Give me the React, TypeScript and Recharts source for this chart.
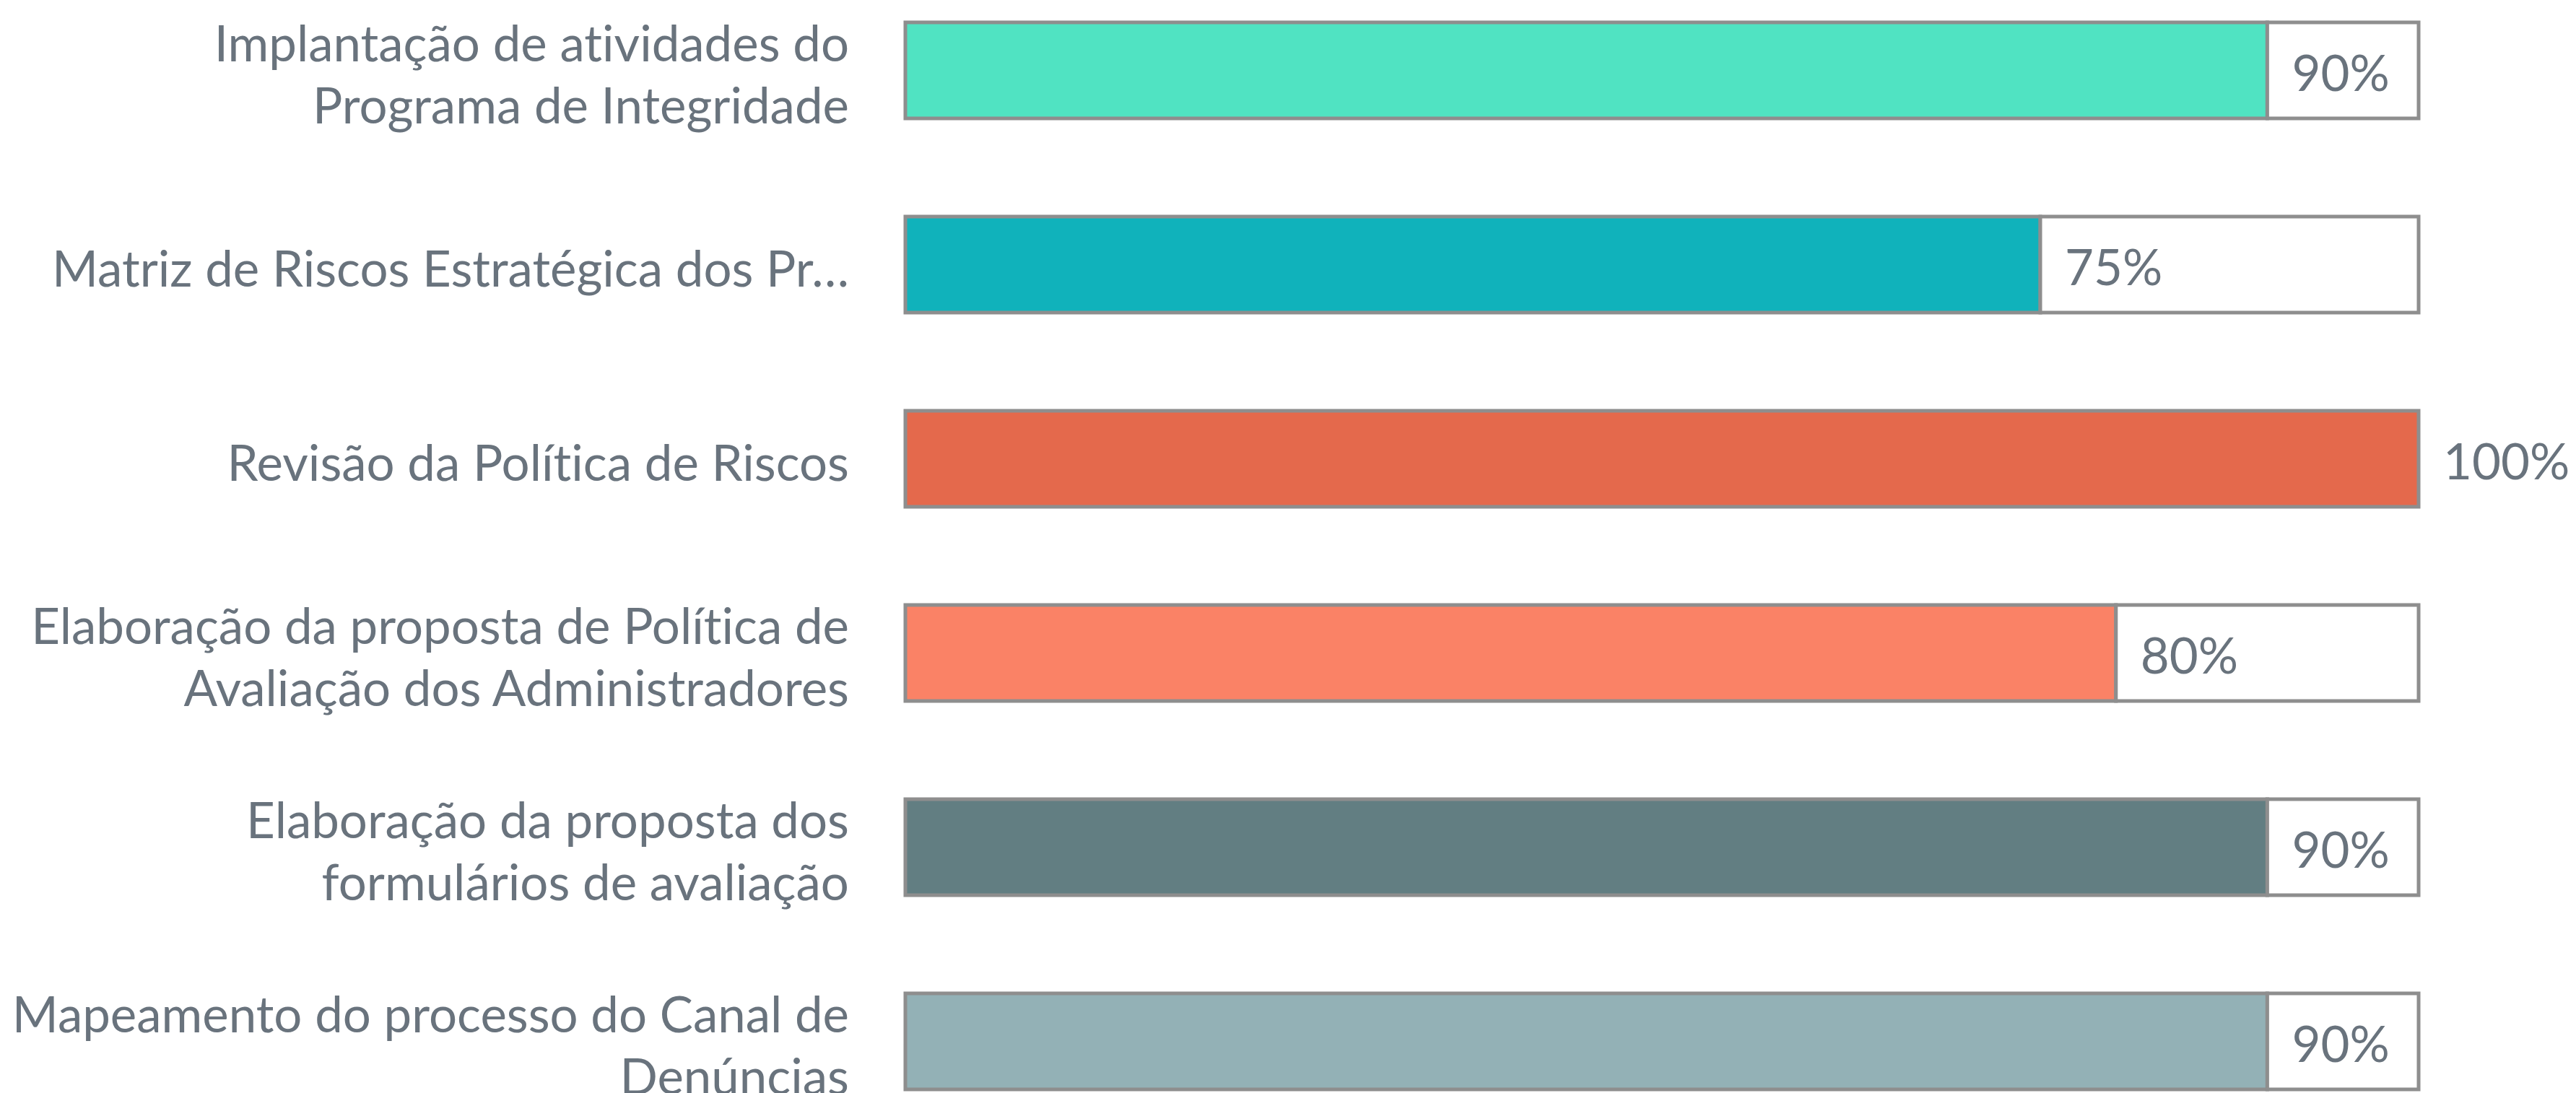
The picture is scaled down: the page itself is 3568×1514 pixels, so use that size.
import { Bar, BarChart, Cell, LabelList, XAxis, YAxis } from "recharts";

const categories = [
  "Implantação de atividades do\nPrograma de Integridade",
  "Matriz de Riscos Estratégica dos Pr…",
  "Revisão da Política de Riscos",
  "Elaboração da proposta de Política de\nAvaliação dos Administradores",
  "Elaboração da proposta dos\nformulários de avaliação",
  "Mapeamento do processo do Canal de\nDenúncias",
];
const progress = [90, 75, 100, 80, 90, 90];
const barColors = ["#50e3c2", "#10b2bb", "#e4694c", "#fa8266", "#627e82", "#93b1b6"];

const data = categories.map((name, i) => ({
  name,
  done: progress[i],
  rest: 100 - progress[i],
}));

const TEXT = "#69737d";
const BORDER = "#8e8e8e";
const FONT = "Lato, 'Open Sans', sans-serif";
const noLig = { fontVariantLigatures: "none" as const };

function CategoryTick({ x, y, payload }: any) {
  const lines = String(payload?.value ?? "").split("\n");
  const lh = 86;
  const start = -((lines.length - 1) * lh) / 2;
  return (
    <text
      x={x - 70}
      y={y + 3}
      textAnchor="end"
      fill={TEXT}
      fontFamily={FONT}
      fontSize={69}
      dominantBaseline="central"
      style={noLig}
    >
      {lines.map((l, i) => (
        <tspan key={i} x={x - 70} dy={i === 0 ? start : lh}>
          {l}
        </tspan>
      ))}
    </text>
  );
}

function PctLabel({ x, y, width, height, value }: any) {
  return (
    <text
      x={x + width + 34}
      y={y + height / 2 + 2}
      fill={TEXT}
      fontFamily={FONT}
      fontSize={69}
      dominantBaseline="central"
    >
      {value}%
    </text>
  );
}

export default function App() {
  return (
    <div
      style={{
        position: "fixed",
        left: 0,
        top: 0,
        width: 3568,
        height: 1514,
        overflow: "hidden",
        background: "#fff",
      }}
    >
      <div style={{ position: "absolute", left: 0, top: -37 }}>
        <BarChart
          layout="vertical"
          width={3568}
          height={1614}
          data={data}
          margin={{ top: 0, right: 218, bottom: 0, left: 0 }}
          barSize={133}
        >
          <XAxis type="number" domain={[0, 100]} hide />
          <YAxis
            type="category"
            dataKey="name"
            width={1254}
            axisLine={false}
            tickLine={false}
            tick={<CategoryTick />}
            interval={0}
          />
          <Bar
            dataKey="done"
            stackId="p"
            stroke={BORDER}
            strokeWidth={5}
            isAnimationActive={false}
          >
            {data.map((_, i) => (
              <Cell key={i} fill={barColors[i]} />
            ))}
            <LabelList dataKey="done" content={<PctLabel />} />
          </Bar>
          <Bar
            dataKey="rest"
            stackId="p"
            fill="#ffffff"
            stroke={BORDER}
            strokeWidth={5}
            isAnimationActive={false}
          />
        </BarChart>
      </div>
    </div>
  );
}
